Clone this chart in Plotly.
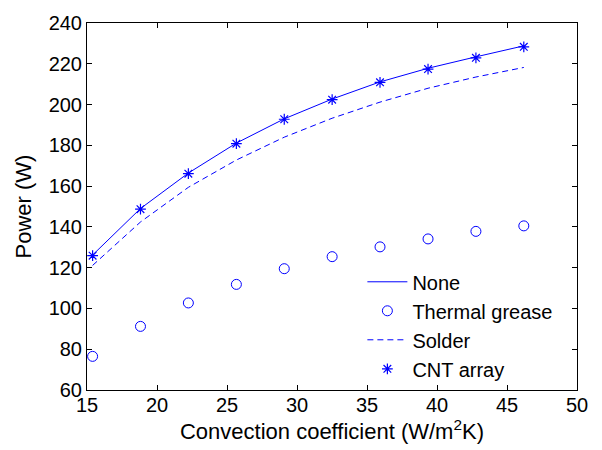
import plotly.graph_objects as go

h = [15.4, 18.82, 22.24, 25.67, 29.09, 32.51, 35.93, 39.36, 42.78, 46.2]
none_p = [126.2, 149.0, 166.4, 181.1, 193.0, 202.7, 211.1, 217.8, 223.4, 228.8]
grease_p = [76.5, 91.2, 102.7, 111.8, 119.5, 125.4, 130.2, 134.1, 137.8, 140.5]
solder_p = [121.1, 142.4, 159.4, 172.8, 184.0, 193.3, 201.2, 208.0, 213.5, 218.2]
cnt_p = [125.9, 148.7, 166.1, 180.8, 192.8, 202.4, 210.9, 217.4, 222.9, 228.3]

blue = "rgb(0,0,255)"
font = "Liberation Sans, Arial, Helvetica, sans-serif"

fig = go.Figure()
fig.add_trace(go.Scatter(x=h, y=none_p, mode="lines", name="None",
                         line=dict(color=blue, width=1)))
fig.add_trace(go.Scatter(x=h, y=grease_p, mode="markers", name="Thermal grease",
                         marker=dict(symbol="circle-open", size=10, color=blue,
                                     line=dict(width=1, color=blue))))
fig.add_trace(go.Scatter(x=h, y=solder_p, mode="lines", name="Solder",
                         line=dict(color=blue, width=1, dash="6px,4px")))
fig.add_trace(go.Scatter(x=h, y=cnt_p, mode="markers", name="CNT array",
                         marker=dict(symbol="asterisk-open", size=9, color=blue,
                                     line=dict(width=1.2, color=blue))))

axis_common = dict(showline=True, linecolor="black", linewidth=1, mirror="ticks",
                   ticks="inside", ticklen=5, tickcolor="black", showgrid=False,
                   zeroline=False, tickfont=dict(size=20, color="black", family=font))

fig.update_xaxes(range=[15, 50], tickmode="array", tickvals=[15, 20, 25, 30, 35, 40, 45, 50],
                 ticklabelstandoff=-3,
                 title=dict(text="Convection coefficient (W/m<sup>2</sup>K)",
                            font=dict(size=22, color="black", family=font), standoff=2),
                 **axis_common)
fig.update_yaxes(range=[60, 240], tickmode="array",
                 tickvals=[60, 80, 100, 120, 140, 160, 180, 200, 220, 240],
                 title=dict(text="Power (W)", font=dict(size=22, color="black", family=font),
                            standoff=10),
                 **axis_common)

fig.update_layout(
    width=602, height=450,
    margin=dict(l=87, r=25, t=15, b=60),
    paper_bgcolor="white", plot_bgcolor="white",
    font=dict(family=font, color="black", size=20),
    legend=dict(x=0.562, y=0.348, xanchor="left", yanchor="top",
                bgcolor="rgba(0,0,0,0)", borderwidth=0,
                font=dict(size=20, color="black", family=font),
                itemwidth=40, tracegroupgap=0),
)

fig.write_html("out.html")
